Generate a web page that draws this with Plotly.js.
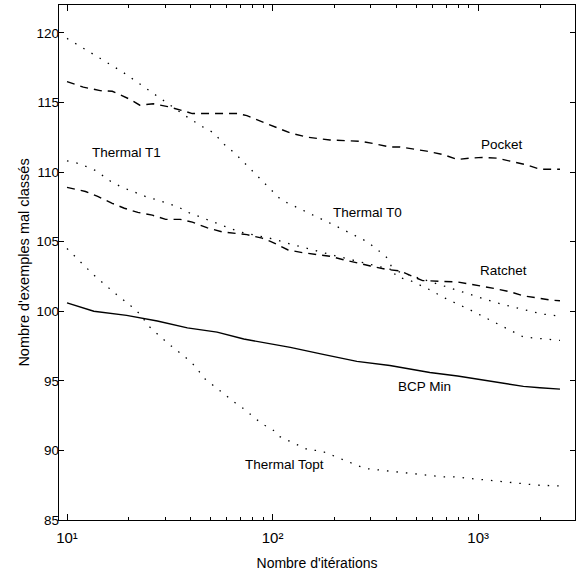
<!DOCTYPE html>
<html>
<head>
<meta charset="utf-8">
<script src="https://cdn.plot.ly/plotly-3.0.1.min.js"></script>
<style>html,body{margin:0;padding:0;background:#fff;}#chart{width:579px;height:574px;}</style>
</head>
<body>
<div id="chart"></div>
<script>
// ---- data ----
const pocketX = [10, 12, 14.5, 16.6, 20.4, 22.6, 26.3, 30.9, 36.7, 40.7, 55.6, 67.6, 75, 89, 105, 122, 148, 190, 229, 269, 309, 372, 417, 562, 676, 794, 912, 1047, 1230, 1429, 1738, 1995, 2500];
const pocketY = [116.5, 116.1, 115.85, 115.8, 115.2, 114.8, 114.9, 114.7, 114.4, 114.2, 114.2, 114.2, 114.05, 113.6, 113.2, 112.8, 112.5, 112.3, 112.25, 112.2, 112.05, 111.8, 111.8, 111.5, 111.25, 110.9, 111.0, 111.05, 111.0, 110.8, 110.5, 110.2, 110.2];

const ratchetX = [10, 12.3, 14.1, 16.6, 19, 22.1, 26, 30.2, 35.5, 40.7, 47.9, 56.9, 75, 89, 100, 119, 141, 164, 190, 221, 257, 299, 359, 417, 479, 537, 653, 794, 912, 1047, 1230, 1429, 1660, 1950, 2240, 2500];
const ratchetY = [108.9, 108.6, 108.25, 107.75, 107.4, 107.1, 106.9, 106.6, 106.6, 106.4, 106.0, 105.7, 105.5, 105.25, 104.95, 104.4, 104.2, 104.1, 103.95, 103.7, 103.5, 103.25, 103.0, 102.9, 102.5, 102.2, 102.15, 102.1, 101.95, 101.8, 101.6, 101.4, 101.1, 100.95, 100.8, 100.75];

const bcpX = [10, 13.5, 19.5, 27.5, 38.5, 53.7, 72.4, 122, 176, 257, 372, 582, 794, 1148, 1660, 1995, 2500];
const bcpY = [100.6, 100.0, 99.7, 99.3, 98.8, 98.5, 98.0, 97.4, 96.9, 96.4, 96.1, 95.6, 95.35, 95.0, 94.6, 94.5, 94.4];

const t0X = [10, 18.6, 38, 45, 52, 57, 66, 76, 86, 110, 195, 288, 331, 363, 398, 468, 589, 676, 912, 1660, 2500];
const t0Y = [119.6, 117.2, 114.0, 113.3, 112.8, 112.1, 111.3, 110.4, 109.6, 108.0, 106.25, 105.0, 104.3, 103.8, 102.5, 102.2, 101.5, 101.0, 100.1, 98.15, 97.9];

const t1X = [10, 11.5, 13.8, 16.6, 18.6, 20.9, 24.5, 27.5, 30.9, 34.7, 38.9, 69, 100, 117, 200, 400, 1230, 2040, 2500];
const t1Y = [110.8, 110.6, 110.1, 109.25, 108.9, 108.6, 108.2, 108.0, 107.75, 107.5, 107.1, 105.7, 105.2, 104.9, 104.0, 102.9, 100.6, 99.8, 99.65];

const toptX = [10, 11.5, 13.5, 17.4, 20.4, 22.6, 25.1, 30.9, 37.6, 41.7, 46.8, 66, 70.8, 89, 100, 108, 151, 170, 282, 676, 759, 1230, 1950, 2500];
const toptY = [104.5, 103.6, 102.6, 101.2, 100.4, 99.8, 98.9, 97.7, 96.7, 96.1, 95.15, 93.4, 93.1, 91.9, 91.5, 91.0, 90.0, 90.0, 88.7, 88.1, 88.1, 87.8, 87.5, 87.45];

const xTickVals = [10, 100, 1000];
const xTickText = ['10\u00B9', '10\u00B2', '10\u00B3'];
const yTickVals = [85, 90, 95, 100, 105, 110, 115, 120];

const seriesLabels = ['Thermal T1', 'Pocket', 'Thermal T0', 'Ratchet', 'BCP Min', 'Thermal Topt'];

const dashed = {color: '#000', width: 1.4, dash: '8px,6px'};
const dotted = {color: '#000', width: 1.3, dash: '1.5px,8px'};
const solid = {color: '#000', width: 1.4};

const traces = [
  {x: pocketX, y: pocketY, mode: 'lines', line: dashed, name: 'Pocket'},
  {x: ratchetX, y: ratchetY, mode: 'lines', line: dashed, name: 'Ratchet'},
  {x: bcpX, y: bcpY, mode: 'lines', line: solid, name: 'BCP Min'},
  {x: t0X, y: t0Y, mode: 'lines', line: dotted, name: 'Thermal T0'},
  {x: t1X, y: t1Y, mode: 'lines', line: dotted, name: 'Thermal T1'},
  {x: toptX, y: toptY, mode: 'lines', line: dotted, name: 'Thermal Topt'}
];

const fontFam = 'Liberation Sans, Arial, sans-serif';
// label anchor positions (layout only): [log10(x), y]
const labelPos = [[1.291, 111.4], [3.117, 112.0], [2.461, 107.1], [3.121, 102.95], [2.738, 94.6], [2.058, 89.0]];
const annotations = seriesLabels.map((t, i) => ({
  text: t, x: labelPos[i][0], y: labelPos[i][1], xref: 'x', yref: 'y',
  xanchor: 'center', yanchor: 'middle',
  showarrow: false, font: {family: fontFam, size: 13.5, color: '#000'}
}));

const layout = {
  width: 579, height: 574,
  margin: {l: 59, r: 4, t: 5, b: 54},
  paper_bgcolor: '#fff', plot_bgcolor: '#fff',
  showlegend: false,
  font: {family: fontFam, color: '#000', size: 14},
  xaxis: {
    type: 'log', range: [0.961, 3.471],
    tickvals: xTickVals, ticktext: xTickText,
    ticks: 'inside', ticklen: 6, tickcolor: '#000',
    minor: {ticks: 'inside', ticklen: 3, tickcolor: '#000', dtick: 'D1'},
    showline: true, linecolor: '#000', linewidth: 1.2, mirror: 'ticks',
    showgrid: false, zeroline: false,
    ticklabelstandoff: 4,
    tickfont: {family: fontFam, size: 15},
    title: {text: "Nombre d'itérations", font: {family: fontFam, size: 14}, standoff: 13}
  },
  yaxis: {
    range: [85, 122],
    tickvals: yTickVals,
    ticks: 'inside', ticklen: 5, tickcolor: '#000',
    showline: true, linecolor: '#000', linewidth: 1.2, mirror: 'ticks',
    showgrid: false, zeroline: false,
    ticklabelstandoff: -4,
    tickfont: {family: fontFam, size: 13.5},
    title: {text: "Nombre d'exemples mal classés", font: {family: fontFam, size: 14.5}, standoff: 3}
  },
  annotations: annotations
};

Plotly.newPlot('chart', traces, layout, {staticPlot: true, displayModeBar: false});
</script>
</body>
</html>
